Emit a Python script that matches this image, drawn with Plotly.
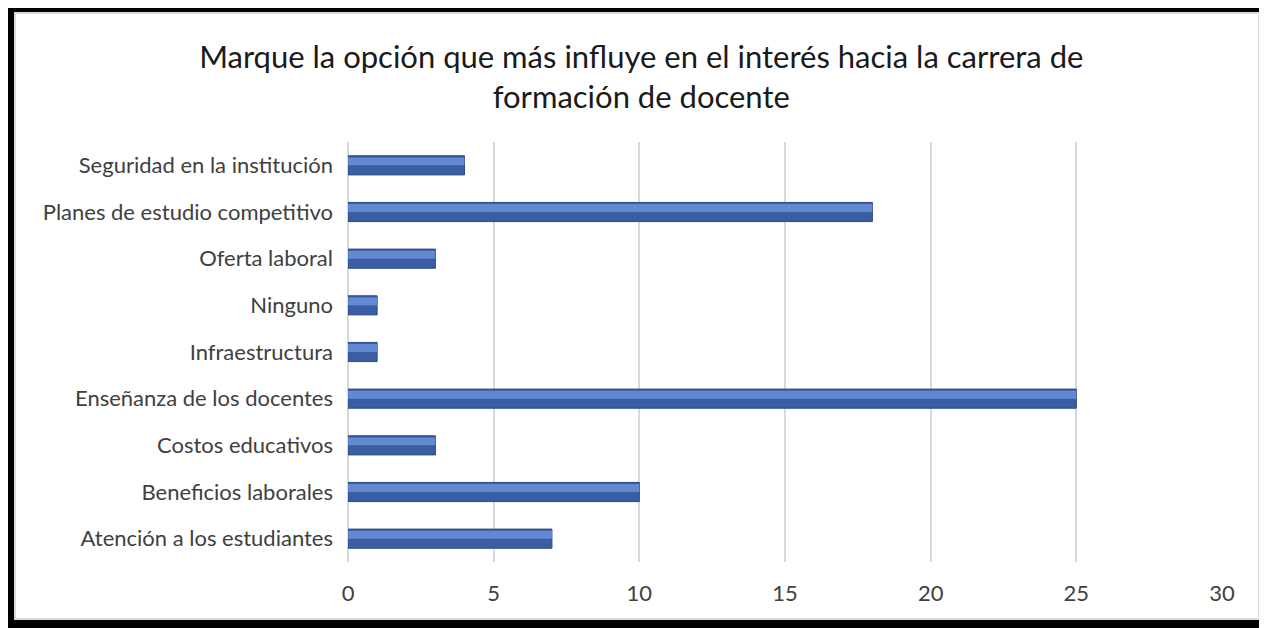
import plotly.graph_objects as go

categories = [
    "Atención a los estudiantes",
    "Beneficios laborales",
    "Costos educativos",
    "Enseñanza de los docentes",
    "Infraestructura",
    "Ninguno",
    "Oferta laboral",
    "Planes de estudio competitivo",
    "Seguridad en la institución",
]
counts = [7, 10, 3, 25, 1, 1, 3, 18, 4]
x_ticks = [0, 5, 10, 15, 20, 25, 30]

# the page body has an 8px margin, so the figure starts at (8, 8)
W, H = 1259, 620
L, R, T, B = 340, 45, 134, 66
pw, ph = W - L - R, H - T - B


def px_x(p):
    return (p - L) / pw


def px_y(p):
    return 1 - (p - T) / ph


fig = go.Figure()

# main bar body (darker lower half)
fig.add_trace(go.Bar(
    y=categories, x=counts, orientation="h",
    width=0.41, marker=dict(color="#3A5DA3", line=dict(color="#2B4A86", width=1)),
    hoverinfo="x+y", showlegend=False,
))
# lighter bevel highlight on the upper half
fig.add_trace(go.Bar(
    y=categories, x=counts, orientation="h",
    width=0.17, offset=0.0,
    marker=dict(color="#6288D2", line=dict(width=0)),
    hoverinfo="skip", showlegend=False,
))

fig.update_layout(
    width=W, height=H,
    margin=dict(l=L, r=R, t=T, b=B),
    barmode="overlay",
    paper_bgcolor="white", plot_bgcolor="white",
    font=dict(family="Lato, Calibri, sans-serif", color="#404040", size=22),
    title=dict(
        text="Marque la opción que más influye en el interés hacia la carrera de<br>formación de docente",
        x=0.503, xanchor="center", y=1 - 60 / H, yanchor="middle",
        font=dict(size=31, color="#1a1a1a"),
    ),
    xaxis=dict(
        range=[0, 30], tickvals=x_ticks, showgrid=True,
        gridcolor="#D9D9D9", gridwidth=2,
        zeroline=True, zerolinecolor="#D9D9D9", zerolinewidth=2,
        showline=False, ticks="", ticklabelstandoff=16,
        fixedrange=True,
    ),
    yaxis=dict(
        showgrid=False, showline=False, ticks="", ticklabelstandoff=14,
        range=[-0.5, len(categories) - 0.5],
    ),
    shapes=[
        dict(type="rect", xref="paper", yref="paper",
             x0=px_x(7), x1=px_x(1251), y0=px_y(5), y1=px_y(611),
             line=dict(color="#DADADA", width=2)),
        dict(type="rect", xref="paper", yref="paper",
             x0=px_x(2), x1=px_x(1256), y0=px_y(0), y1=px_y(616),
             line=dict(color="black", width=8)),
    ],
)

fig.write_html("out.html")
